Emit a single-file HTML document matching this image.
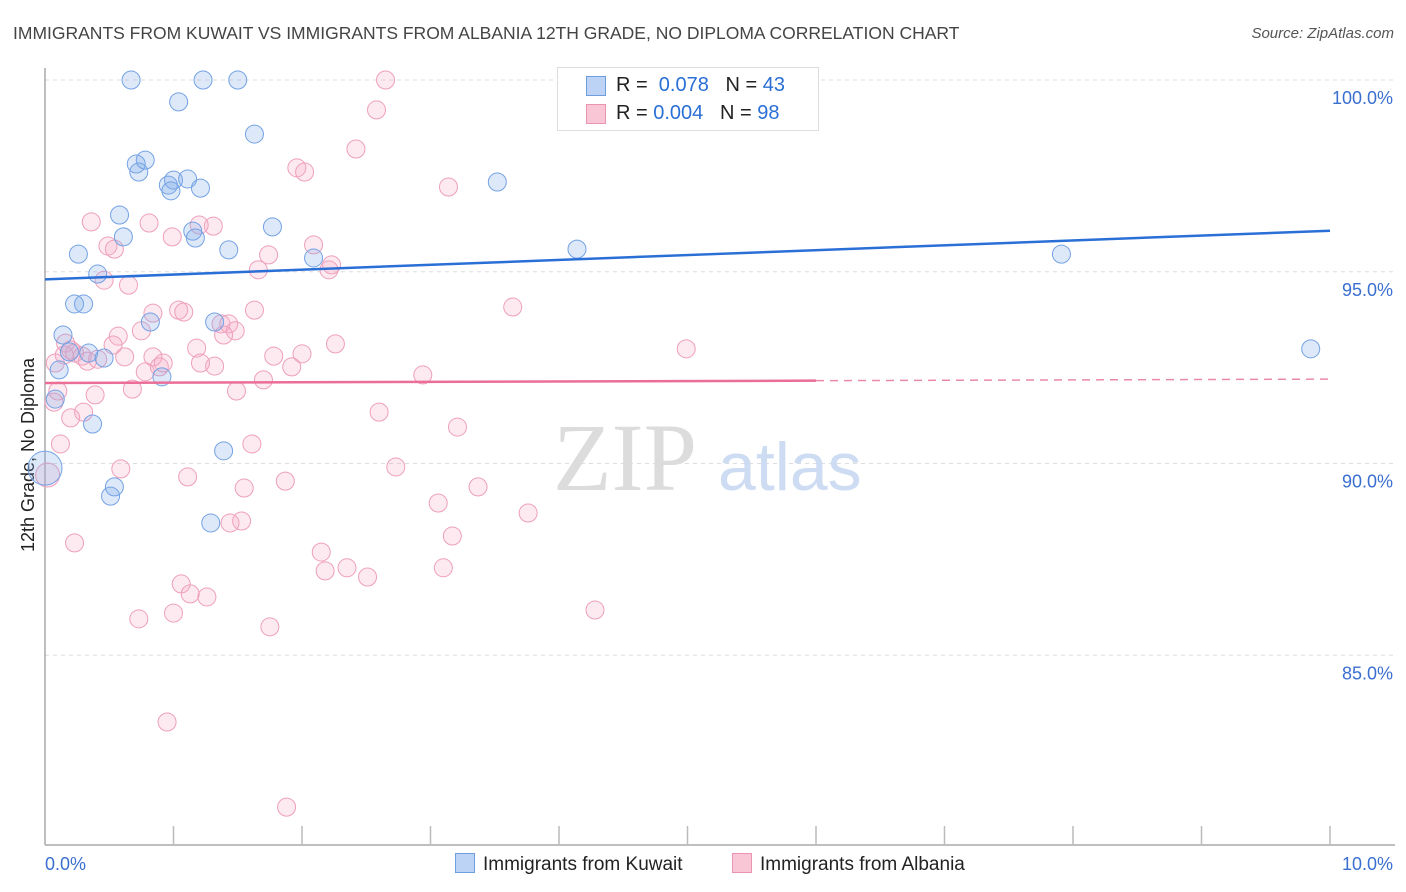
<!DOCTYPE html>
<html><head><meta charset="utf-8">
<style>
body{margin:0;background:#fff;font-family:"Liberation Sans",sans-serif;}
#wrap{position:relative;width:1406px;height:892px;overflow:hidden;}
.t{position:absolute;white-space:nowrap;}
</style></head><body>
<div id="wrap">
<div class="t" style="left:13px;top:23px;font-size:17.5px;color:#444;">IMMIGRANTS FROM KUWAIT VS IMMIGRANTS FROM ALBANIA 12TH GRADE, NO DIPLOMA CORRELATION CHART</div>
<div class="t" style="right:12px;top:25px;font-size:15px;color:#555;font-style:italic;">Source: ZipAtlas.com</div>
<svg id="svg" width="1406" height="892" style="position:absolute;left:0;top:0"></svg>
</div>
<script>
const yTicks=[100,95,90,85];
const yTickLabels=["100.0%","95.0%","90.0%","85.0%"];
const xTickLabels=["0.0%","10.0%"];
const kuwaitX=[0.67,1.23,1.50,1.04,1.63,0.71,0.78,0.73,0.96,1.00,0.98,1.11,1.21,3.52,0.58,1.15,1.17,1.77,0.61,1.43,4.14,0.26,2.09,7.91,0.41,0.23,0.30,0.82,1.32,0.14,0.19,0.34,0.46,0.11,0.91,0.08,0.37,1.39,0.54,0.51,1.29,9.85,0.0];
const kuwaitY=[100.0,100.0,100.0,99.43,98.59,97.81,97.91,97.60,97.26,97.39,97.11,97.42,97.18,97.34,96.48,96.06,95.88,96.17,95.91,95.57,95.59,95.46,95.36,95.46,94.94,94.16,94.16,93.69,93.69,93.35,92.91,92.88,92.75,92.44,92.26,91.68,91.03,90.33,89.39,89.15,88.45,92.99,89.88];
const albaniaX=[2.65,5.21,2.58,2.42,1.96,2.02,3.14,0.36,0.81,1.31,1.20,0.99,0.49,0.54,2.09,1.74,2.23,2.21,1.66,0.46,0.65,3.64,1.63,0.84,1.04,1.08,1.37,1.43,1.48,1.39,0.75,0.57,0.53,1.18,0.16,0.20,0.84,0.62,0.15,0.23,0.29,0.33,0.41,0.08,1.78,2.00,2.26,4.99,1.92,1.32,1.21,0.78,0.89,0.92,2.94,1.70,0.68,0.39,1.49,0.10,0.07,0.30,0.20,2.60,3.21,0.12,0.59,1.61,2.73,1.11,1.55,1.87,3.37,3.06,3.76,1.53,1.44,3.17,0.23,2.15,2.35,2.18,2.51,3.10,1.06,1.13,1.26,4.28,1.00,0.73,1.75,0.95,1.88,0.02];
const albaniaY=[100.0,100.0,99.22,98.20,97.71,97.60,97.21,96.30,96.27,96.19,96.22,95.91,95.67,95.59,95.70,95.44,95.18,95.05,95.05,94.78,94.65,94.08,94.00,93.92,94.00,93.95,93.64,93.64,93.46,93.35,93.46,93.32,93.09,93.01,93.14,92.96,92.78,92.78,92.83,92.88,92.80,92.67,92.72,92.62,92.80,92.86,93.12,92.99,92.52,92.54,92.62,92.39,92.52,92.62,92.31,92.18,91.94,91.79,91.89,91.89,91.60,91.34,91.19,91.34,90.95,90.51,89.86,90.51,89.91,89.65,89.36,89.54,89.39,88.97,88.71,88.50,88.45,88.11,87.93,87.69,87.28,87.20,87.04,87.28,86.86,86.60,86.52,86.18,86.10,85.95,85.74,83.26,81.04,89.70];
const trendKuwait=[94.80,96.07];
const trendAlbania=[92.10,92.20];
const NS='http://www.w3.org/2000/svg';
const svg=document.getElementById('svg');
const X0=45,X1=1330,Y100=80,PER=38.35,YB=845;
const sx=v=>X0+(X1-X0)*v/10;
const sy=v=>Y100+(100-v)*PER;
function mk(tag,attrs,parent){const e=document.createElementNS(NS,tag);for(const k in attrs)e.setAttribute(k,attrs[k]);(parent||svg).appendChild(e);return e;}
yTicks.forEach((v,i)=>{
 const g=mk('line',{x1:X0,x2:1395,y1:sy(v),y2:sy(v),stroke:'#ddd','stroke-dasharray':'4,4'});
 
 
 const t=mk('text',{x:1393,y:sy(v)+24,'text-anchor':'end','font-size':18,fill:'#3a6fd0','font-family':'Liberation Sans'});
 t.textContent=yTickLabels[i];
 
 
});
const ya=mk('line',{x1:X0,x2:X0,y1:68,y2:YB,stroke:'#aaa','stroke-width':1.5});


const xa=mk('line',{x1:X0,x2:1395,y1:YB,y2:YB,stroke:'#aaa','stroke-width':1.5});


for(let i=1;i<=10;i++){const tk=mk('line',{x1:sx(i),x2:sx(i),y1:826,y2:YB,stroke:'#bbb','stroke-width':1.5});
 
 }
[[0,'start',45],[1,'end',1393]].forEach(([i,a,x])=>{const t=mk('text',{x:x,y:870,'text-anchor':a,'font-size':18,fill:'#3a6fd0','font-family':'Liberation Sans'});t.textContent=xTickLabels[i];
 
 });
const yt=mk('text',{x:0,y:0,transform:'translate(34,455) rotate(-90)','text-anchor':'middle','font-size':18,fill:'#222','font-family':'Liberation Sans'});
yt.textContent='12th Grade, No Diploma';


const wm=mk('text',{x:553,y:490,'font-size':96,fill:'#dcdcdc','font-family':'Liberation Serif'});
wm.textContent='ZIP';


const wm2=mk('text',{x:718,y:490,'font-size':68,fill:'#cddcf2','font-family':'Liberation Sans'});
wm2.textContent='atlas';


albaniaX.forEach((x,i)=>{const big=i===albaniaX.length-1;const c=mk('circle',{cx:sx(x),cy:sy(albaniaY[i]),r:big?12:9,fill:'rgba(246,170,198,0.25)',stroke:'#ee9fbb','stroke-width':1});
 
 });
kuwaitX.forEach((x,i)=>{const big=i===kuwaitX.length-1;const c=mk('circle',{cx:sx(x),cy:sy(kuwaitY[i]),r:big?17:9,fill:'rgba(120,168,232,0.25)',stroke:'#74a2e4','stroke-width':1});
 
 });
const tk=mk('line',{x1:sx(0),y1:sy(trendKuwait[0]),x2:sx(10),y2:sy(trendKuwait[1]),stroke:'#2a6fd6','stroke-width':2.5});


const midA=trendAlbania[0]+(trendAlbania[1]-trendAlbania[0])*0.6;
const ta=mk('line',{x1:sx(0),y1:sy(trendAlbania[0]),x2:sx(6),y2:sy(midA),stroke:'#ea6e96','stroke-width':2.5});


const ta2=mk('line',{x1:sx(6),y1:sy(midA),x2:sx(10),y2:sy(trendAlbania[1]),stroke:'#ea8aa8','stroke-width':1.5,'stroke-dasharray':'8,6'});


</script>
<div style="position:absolute;left:557px;top:67px;width:260px;height:62px;border:1px solid #ddd;background:#fff;font-size:20px;">
 <div style="position:absolute;left:28px;top:8px;width:18px;height:18px;background:#bcd3f5;border:1px solid #6f9ee0;"></div>
 <div class="t" style="left:58px;top:6px;color:#222;">R = <span style="color:#2a6fd6">&nbsp;0.078</span>&nbsp;&nbsp;&nbsp;N = <span style="color:#2a6fd6">43</span></div>
 <div style="position:absolute;left:28px;top:36px;width:18px;height:18px;background:#f9c6d6;border:1px solid #eb93b1;"></div>
 <div class="t" style="left:58px;top:34px;color:#222;">R = <span style="color:#2a6fd6">0.004</span>&nbsp;&nbsp;&nbsp;N = <span style="color:#2a6fd6">98</span></div>
</div>
<div style="position:absolute;left:455px;top:853px;font-size:19px;color:#222;">
 <span style="display:inline-block;width:18px;height:18px;background:#bcd3f5;border:1px solid #6f9ee0;vertical-align:-3px;margin-right:8px;"></span>Immigrants from Kuwait</div>
<div style="position:absolute;left:732px;top:853px;font-size:19px;color:#222;">
 <span style="display:inline-block;width:18px;height:18px;background:#f9c6d6;border:1px solid #eb93b1;vertical-align:-3px;margin-right:8px;"></span>Immigrants from Albania</div>
</body></html>
